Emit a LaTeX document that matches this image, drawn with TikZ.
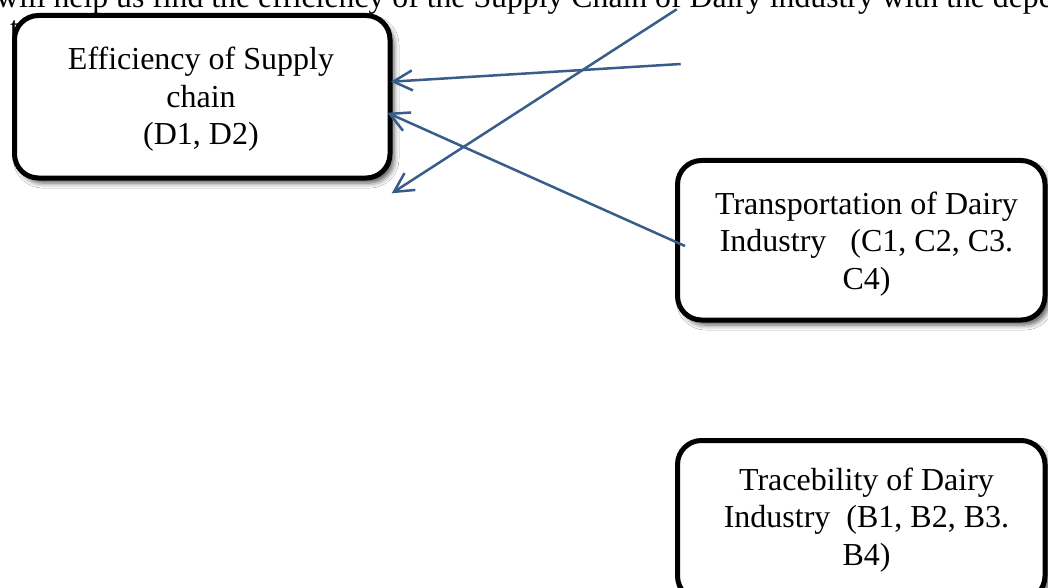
\documentclass[tikz,border=0pt]{standalone}
\usepackage{fontspec}
\setmainfont{Liberation Serif}
\usetikzlibrary{arrows.meta,shadows.blur,calc}
\definecolor{arrowblue}{RGB}{56,93,138}
\tikzset{
  box/.style={draw=black, line width=5pt, rounded corners=24pt, fill=white,
    outer sep=0pt, inner sep=0pt,
    blur shadow={shadow xshift=4pt, shadow yshift=-5pt, shadow blur radius=5pt, shadow opacity=65}},
  boxtext/.style={align=center, inner sep=0pt},
  bigfont/.style={font=\fontsize{32}{37.5}\selectfont},
  conn/.style={draw=arrowblue, line width=2.5pt, -{Straight Barb[length=19pt,width=20pt]}},
  toptext/.style={font=\fontsize{31.75}{37}\selectfont, inner sep=0pt, anchor=base west},
}
\begin{document}
\begin{tikzpicture}[x=1pt,y=-1pt]
\useasboundingbox (0,0) rectangle (1048,588);
\clip (0,0) rectangle (1048,588);
\fill[white] (0,0) rectangle (1048,588);

\node[toptext] (topline) at (-4,7.5) {will help us find the efficiency of the Supply Chain of Dairy industry with the dependent};
\node[toptext] (topline2) at (10,39) {t};

\node[box, minimum width=375.5pt, minimum height=162.5pt] (eff) at (202.25,96.75) {};
\node[box, minimum width=367.5pt, minimum height=159.5pt] (trans) at (861.25,240.25) {};
\node[box, minimum width=367.5pt, minimum height=159.5pt] (trace) at (861.25,520.25) {};

\node[boxtext, bigfont] (efft) at (201,99.4) {Efficiency of Supply\\chain\\(D1, D2)};
\node[boxtext, bigfont] (transt) at (866.5,244) {Transportation of Dairy\\Industry\ \ \ (C1, C2, C3.\\C4)};
\node[boxtext, bigfont] (tracet) at (866.5,520) {Tracebility of Dairy\\Industry\ \ (B1, B2, B3.\\B4)};

\coordinate (s1) at (676.7,9.3);
\coordinate (e1) at (391.7,193.3);
\coordinate (s2) at (680.7,64);

\draw[conn] (s1) -- (e1);
\draw[conn] (s2) -- ($(eff.east)+(0.7,-15)$);
\draw[conn] ($(trans.west)+(7.5,5.8)$) -- ($(eff.east)+(-2.7,16)$);
\end{tikzpicture}
\end{document}
